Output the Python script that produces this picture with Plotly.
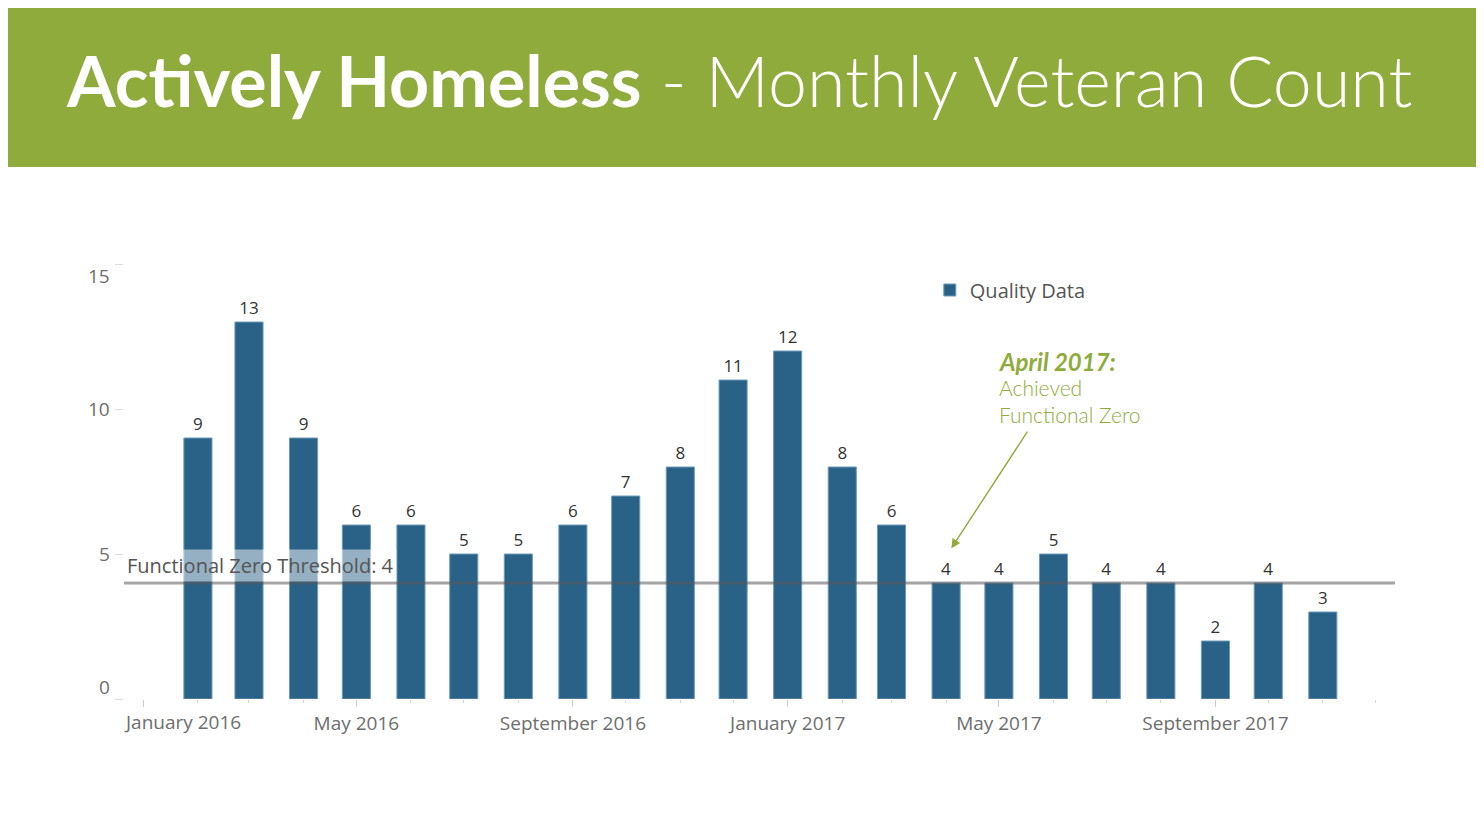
"""Actively Homeless - monthly veteran count"""

import plotly.graph_objects as go

months = [
    "2016-02-01", "2016-03-01", "2016-04-01", "2016-05-01", "2016-06-01",
    "2016-07-01", "2016-08-01", "2016-09-01", "2016-10-01", "2016-11-01",
    "2016-12-01", "2017-01-01", "2017-02-01", "2017-03-01", "2017-04-01",
    "2017-05-01", "2017-06-01", "2017-07-01", "2017-08-01", "2017-09-01",
    "2017-10-01", "2017-11-01",
]
counts = [9, 13, 9, 6, 6, 5, 5, 6, 7, 8, 11, 12, 8, 6, 4, 4, 5, 4, 4, 2, 4, 3]
threshold = 4
x_ticks = ["2016-01-01", "2016-05-01", "2016-09-01", "2017-01-01", "2017-05-01", "2017-09-01"]
x_labels = ["January 2016", "May 2016", "September 2016", "January 2017", "May 2017", "September 2017"]
y_ticks = [0, 5, 10, 15]
callout_head = "<b><i>April 2017:</i></b>"
callout_body = "Achieved<br>Functional Zero"

GREEN = "#8FAB3B"
BAR = "#2A6186"
TICK_FONT = dict(family="Open Sans", size=19, color="#6E6E6E")

fig = go.Figure()

fig.add_trace(
    go.Bar(
        x=months,
        y=counts,
        name="Quality Data",
        text=counts,
        textposition="outside",
        textfont=dict(size=17, color="#333333", family="Open Sans"),
        cliponaxis=False,
        marker=dict(color=BAR, line=dict(color="#6C9BBB", width=1)),
        showlegend=True,
    )
)

# header band
fig.add_shape(type="rect", xref="paper", yref="paper",
              x0=-0.2, x1=1.2, y0=1.223, y1=1.8,
              fillcolor=GREEN, line=dict(width=0), layer="below")

fig.add_annotation(
    xref="paper", yref="paper", x=-0.047, y=1.423,
    xanchor="left", yanchor="middle", showarrow=False,
    text="<b>Actively Homeless</b> - Monthly Veteran Count",
    font=dict(family="Lato", size=70, color="white", weight=300),
)

# functional zero threshold
fig.add_shape(type="line", xref="paper", yref="y",
              x0=0, x1=1, y0=threshold, y1=threshold,
              line=dict(color="rgba(90,90,90,0.55)", width=3), layer="above")
fig.add_annotation(
    xref="paper", yref="y", x=0, y=threshold,
    xanchor="left", yanchor="bottom", showarrow=False,
    text=f"Functional Zero Threshold: {threshold}",
    font=dict(family="Open Sans", size=20, color="#555555"),
    bgcolor="rgba(255,255,255,0.5)", borderpad=2, yshift=1,
)

# April 2017 callout
fig.add_annotation(
    xref="paper", yref="paper", x=0.6869, y=0.775,
    xanchor="left", yanchor="middle", showarrow=False,
    text=callout_head,
    font=dict(family="Lato", size=24, color=GREEN, weight=300),
)
fig.add_annotation(
    xref="paper", yref="paper", x=0.6869, y=0.684,
    xanchor="left", yanchor="middle", align="left", showarrow=False,
    text=callout_body,
    font=dict(family="Lato", size=21, color=GREEN, weight=300),
)
fig.add_annotation(
    x="2017-04-04", y=5.2, text="", showarrow=True,
    ax=77, ay=-118, arrowhead=2, arrowsize=1.3, arrowwidth=1.4,
    arrowcolor=GREEN,
)

# y tick labels, edge labels pulled inside the plot height
for v in y_ticks:
    shift = 0
    if v == max(y_ticks):
        shift = -12
    elif v == min(y_ticks):
        shift = 12
    fig.add_annotation(
        xref="paper", yref="y", x=0, y=v, xanchor="right", yanchor="middle",
        xshift=-12, yshift=shift, showarrow=False, text=str(v), font=TICK_FONT,
    )

# first x label is justified to stay inside the plot
fig.add_annotation(
    xref="paper", yref="paper", x=0, y=0, xanchor="left", yanchor="top",
    xshift=-2, yshift=-8, showarrow=False, text=x_labels[0], font=TICK_FONT,
)

fig.update_layout(
    width=1484,
    height=838,
    margin=dict(l=116, r=97, t=256, b=147),
    paper_bgcolor="white",
    plot_bgcolor="white",
    bargap=0.43,
    font=dict(family="Open Sans", color="#666666"),
    legend=dict(
        x=0.634, y=0.985, xanchor="left", yanchor="top",
        font=dict(size=20, color="#555555"),
        bgcolor="rgba(0,0,0,0)",
    ),
    xaxis=dict(
        type="date",
        range=["2015-12-21", "2017-12-12"],
        tickvals=x_ticks,
        ticktext=[""] + x_labels[1:],
        ticks="outside",
        ticklen=7,
        tickcolor="#CCCCCC",
        tickfont=TICK_FONT,
        showgrid=False,
        zeroline=False,
        showline=False,
        minor=dict(dtick="M1", ticks="outside", ticklen=3, tickcolor="#D5D5D5"),
    ),
    yaxis=dict(
        range=[0, 15],
        tickvals=y_ticks,
        showticklabels=False,
        ticks="outside",
        ticklen=8,
        tickcolor="#DDDDDD",
        showgrid=False,
        zeroline=False,
        showline=False,
    ),
)

fig.write_html("out.html")
